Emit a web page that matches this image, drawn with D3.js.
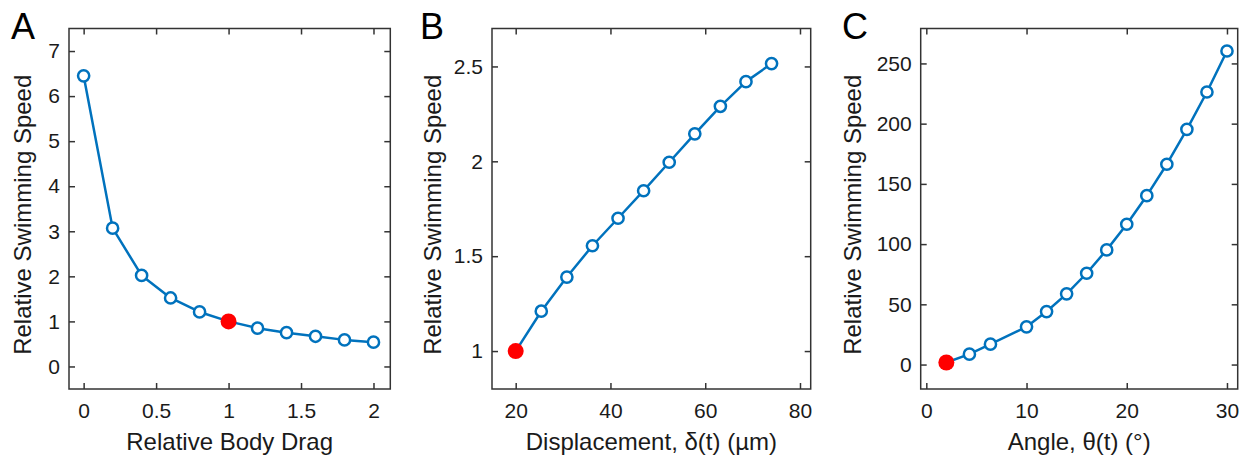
<!DOCTYPE html>
<html>
<head>
<meta charset="utf-8">
<script src="https://cdn.jsdelivr.net/npm/d3@7"></script>
<style>
  html, body { margin: 0; padding: 0; background: #fff; }
  svg { display: block; font-family: "Liberation Sans", Arial, sans-serif; }
</style>
</head>
<body>
<svg id="chart" width="1239" height="460"></svg>
<script>
// ---- Data ----
const dragX = [0, 0.2, 0.4, 0.6, 0.8, 1.0, 1.2, 1.4, 1.6, 1.8, 2.0];
const dragY = [6.45, 3.07, 2.02, 1.52, 1.21, 1.0, 0.85, 0.75, 0.67, 0.59, 0.54];
const dragRefIndex = 5;
const dragXTicks = [0, 0.5, 1, 1.5, 2];
const dragYTicks = [0, 1, 2, 3, 4, 5, 6, 7];

const dispX = [20, 25.4, 30.8, 36.2, 41.6, 47.0, 52.4, 57.8, 63.2, 68.6, 74.0];
const dispY = [1.0, 1.21, 1.39, 1.555, 1.70, 1.845, 1.995, 2.145, 2.29, 2.42, 2.515];
const dispRefIndex = 0;
const dispXTicks = [20, 40, 60, 80];
const dispYTicks = [1, 1.5, 2, 2.5];

const angleX = [2, 4.3, 6.4, 10, 12, 14, 16, 18, 20, 22, 24, 26, 28, 30];
const angleY = [1.7, 8.6, 16.9, 31.3, 44, 58.7, 75.8, 95.2, 116.5, 140.2, 166.3, 195.3, 226.3, 260.3];
const angleRefIndex = 0;
const angleXTicks = [0, 10, 20, 30];
const angleYTicks = [0, 50, 100, 150, 200, 250];

const yTitle = "Relative Swimming Speed";

// ---- Layout / style ----
const panels = [
  { letter: "A", xs: dragX, ys: dragY, ref: dragRefIndex, xt: dragXTicks, yt: dragYTicks,
    xDom: [-0.101, 2.116], yDom: [-0.5, 7.5], left: 69, right: 390.3,
    xTitle: "Relative Body Drag", letterX: 11, yTitleX: 22 },
  { letter: "B", xs: dispX, ys: dispY, ref: dispRefIndex, xt: dispXTicks, yt: dispYTicks,
    xDom: [15, 82.26], yDom: [0.8, 2.7], left: 492, right: 810.7,
    xTitle: "Displacement, δ(t) (µm)", letterX: 420, yTitleX: 432 },
  { letter: "C", xs: angleX, ys: angleY, ref: angleRefIndex, xt: angleXTicks, yt: angleYTicks,
    xDom: [-0.56, 31.07], yDom: [-20.3, 279], left: 920.7, right: 1237.7,
    xTitle: "Angle, θ(t) (°)", letterX: 842, yTitleX: 852 }
];
const plotTop = 28.5, plotBottom = 389;
const blue = "#0072BD", red = "#FF0000", frameColor = "#333333", textColor = "#1a1a1a";
const tickFont = 21, titleFont = 24, letterFont = 36;

const svg = d3.select("#chart");
const fmt = d3.format("~g");

panels.forEach(p => {
  const x = d3.scaleLinear().domain(p.xDom).range([p.left, p.right]);
  const y = d3.scaleLinear().domain(p.yDom).range([plotBottom, plotTop]);
  const g = svg.append("g");

  // axes
  const bx = g.append("g").attr("transform", `translate(0,${plotBottom})`)
    .call(d3.axisBottom(x).tickValues(p.xt).tickFormat(fmt).tickSize(-6).tickPadding(14));
  const tx = g.append("g").attr("transform", `translate(0,${plotTop})`)
    .call(d3.axisTop(x).tickValues(p.xt).tickFormat("").tickSize(-6));
  const ly = g.append("g").attr("transform", `translate(${p.left},0)`)
    .call(d3.axisLeft(y).tickValues(p.yt).tickFormat(fmt).tickSize(-6).tickPadding(9));
  const ry = g.append("g").attr("transform", `translate(${p.right},0)`)
    .call(d3.axisRight(y).tickValues(p.yt).tickFormat("").tickSize(-6));
  [bx, tx, ly, ry].forEach(a => {
    a.select(".domain").remove();
    a.selectAll(".tick line").attr("stroke", frameColor).attr("stroke-width", 1.5);
    a.selectAll(".tick text").attr("fill", textColor).style("font-size", tickFont + "px")
      .style("font-family", '"Liberation Sans", Arial, sans-serif');
  });

  // frame
  g.append("rect").attr("x", p.left).attr("y", plotTop)
    .attr("width", p.right - p.left).attr("height", plotBottom - plotTop)
    .attr("fill", "none").attr("stroke", frameColor).attr("stroke-width", 1.5);

  // line
  const pts = p.xs.map((v, i) => [v, p.ys[i]]);
  g.append("path").datum(pts)
    .attr("fill", "none").attr("stroke", blue).attr("stroke-width", 2.5)
    .attr("stroke-linejoin", "round")
    .attr("d", d3.line().x(d => x(d[0])).y(d => y(d[1])));

  // markers
  g.selectAll("circle.m").data(pts.filter((d, i) => i !== p.ref)).join("circle")
    .attr("class", "m").attr("cx", d => x(d[0])).attr("cy", d => y(d[1]))
    .attr("r", 5.6).attr("fill", "#fff").attr("stroke", blue).attr("stroke-width", 2.5);
  g.append("circle").attr("cx", x(pts[p.ref][0])).attr("cy", y(pts[p.ref][1]))
    .attr("r", 8).attr("fill", red);

  // titles
  g.append("text").attr("x", (p.left + p.right) / 2).attr("y", 450)
    .attr("text-anchor", "middle").attr("fill", textColor)
    .style("font-size", titleFont + "px").text(p.xTitle);
  g.append("text")
    .attr("transform", `translate(${p.yTitleX + 8.5},${(plotTop + plotBottom) / 2 + 6}) rotate(-90)`)
    .attr("text-anchor", "middle").attr("fill", textColor)
    .style("font-size", titleFont + "px").text(yTitle);
  g.append("text").attr("x", p.letterX).attr("y", 39)
    .attr("fill", "#000").style("font-size", letterFont + "px").text(p.letter);
});
</script>
</body>
</html>
